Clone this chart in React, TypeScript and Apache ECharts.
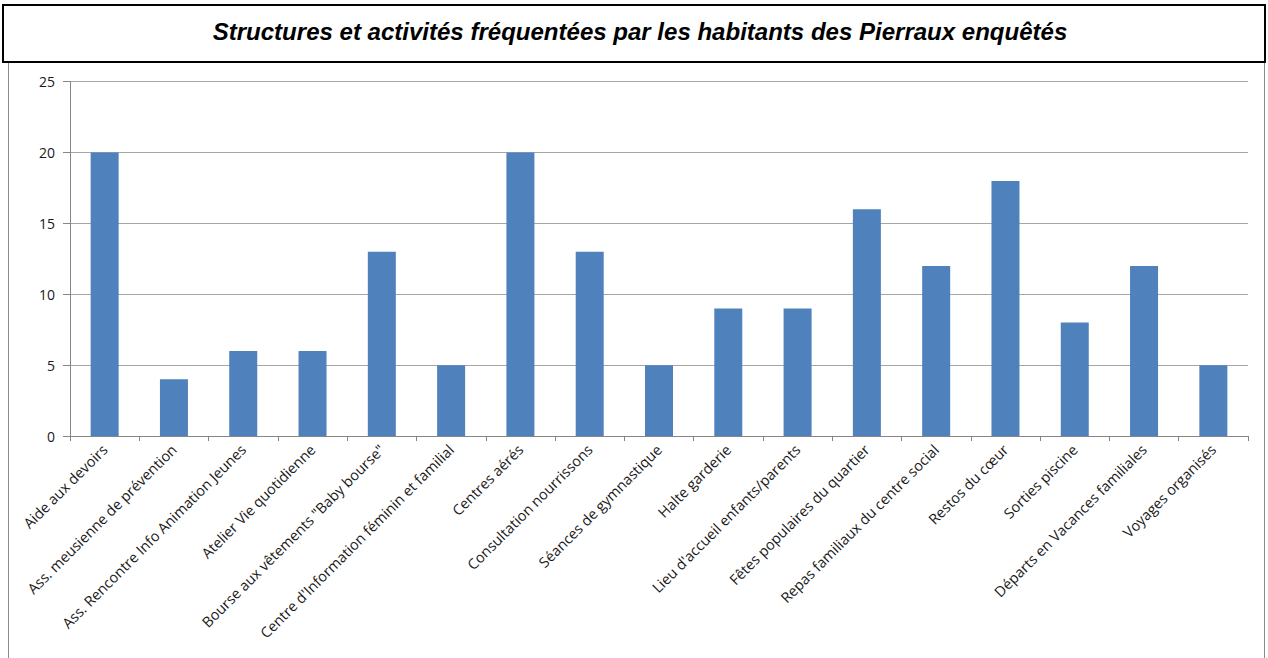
import React, { useEffect, useRef } from "react";
import * as echarts from "echarts";

const titleText = "Structures et activités fréquentées par les habitants des Pierraux enquêtés";

const categories = [
  "Aide aux devoirs",
  "Ass. meusienne de prévention",
  "Ass. Rencontre Info Animation Jeunes",
  "Atelier Vie quotidienne",
  "Bourse aux vêtements \"Baby bourse\"",
  "Centre d'Information féminin et familial",
  "Centres aérés",
  "Consultation nourrissons",
  "Séances de gymnastique",
  "Halte garderie",
  "Lieu d'accueil enfants/parents",
  "Fêtes populaires du quartier",
  "Repas familiaux du centre social",
  "Restos du cœur",
  "Sorties piscine",
  "Départs en Vacances familiales",
  "Voyages organisés",
];

const values = [20, 4, 6, 6, 13, 5, 20, 13, 5, 9, 9, 16, 12, 18, 8, 12, 5];

const yTicks = { min: 0, max: 25, interval: 5 };

export default function App() {
  const ref = useRef<HTMLDivElement>(null);
  useEffect(() => {
    if (!ref.current) return;
    const chart = echarts.init(ref.current, null, { renderer: "svg" });
    chart.setOption({
      animation: false,
      backgroundColor: "#ffffff",
      graphic: [
        {
          type: "rect",
          shape: { x: 8.5, y: 62, width: 1256, height: 620 },
          style: { fill: "none", stroke: "#8c8c8c", lineWidth: 1 },
          z: 0,
        },
        {
          type: "rect",
          shape: { x: 3, y: 5, width: 1262, height: 57 },
          style: { fill: "#ffffff", stroke: "#000000", lineWidth: 2 },
          z: 1,
        },
        {
          type: "text",
          x: 640,
          y: 32,
          scaleX: 1.045,
          style: {
            text: titleText,
            font: "italic bold 23px 'Liberation Sans', Arial, sans-serif",
            fill: "#000000",
            align: "center",
            verticalAlign: "middle",
          },
          z: 2,
        },
      ],
      grid: { left: 70, right: 20, top: 81.7, bottom: 222, containLabel: false },
      xAxis: {
        type: "category",
        data: categories,
        boundaryGap: true,
        axisLine: { show: true, lineStyle: { color: "#868686", width: 1 } },
        axisTick: { show: true, length: 5, alignWithLabel: false, lineStyle: { color: "#868686" } },
        axisLabel: {
          interval: 0,
          rotate: 45,
          margin: 11,
          fontFamily: "'Open Sans', sans-serif",
          fontSize: 14.5,
          color: "#1a1a1a",
        },
        splitLine: { show: false },
      },
      yAxis: {
        type: "value",
        min: yTicks.min,
        max: yTicks.max,
        interval: yTicks.interval,
        axisLine: { show: true, lineStyle: { color: "#868686", width: 1 } },
        axisTick: { show: true, length: 7, lineStyle: { color: "#868686" } },
        axisLabel: {
          margin: 15,
          fontFamily: "'Open Sans', sans-serif",
          fontSize: 14,
          color: "#1a1a1a",
        },
        splitLine: { show: true, lineStyle: { color: "#a6a6a6", width: 1 } },
      },
      series: [
        {
          type: "bar",
          data: values,
          barWidth: 28,
          itemStyle: { color: "#4F81BD" },
        },
      ],
    });
    return () => chart.dispose();
  }, []);
  return (
    <div
      ref={ref}
      style={{ position: "absolute", left: 0, top: 0, width: 1268, height: 658 }}
    />
  );
}
